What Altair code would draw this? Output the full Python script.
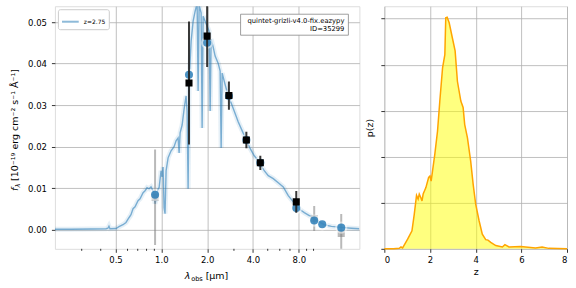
import altair as alt
import pandas as pd

FONT = "DejaVu Sans"

# ---------------- data ----------------
spec_wave = [0.200, 0.255, 0.345, 0.433, 0.446, 0.453, 0.460, 0.504, 0.527, 0.560,
             0.586, 0.613, 0.632, 0.652, 0.672, 0.703, 0.725, 0.759, 0.782, 0.806,
             0.831, 0.856, 0.883, 0.896, 0.910, 0.924, 0.952, 0.967, 0.996, 1.011,
             1.027, 1.043, 1.058, 1.075, 1.108, 1.159, 1.213, 1.250, 1.289, 1.309,
             1.329, 1.370, 1.412, 1.455, 1.477, 1.500, 1.523, 1.570, 1.618, 1.668,
             1.719, 1.745, 1.772, 1.826, 1.854, 1.882, 1.940, 2.000, 2.061, 2.093,
             2.125, 2.190, 2.257, 2.362, 2.435, 2.472, 2.510, 2.627, 2.750, 2.877,
             3.011, 3.198, 3.399, 3.613, 3.839, 4.079, 4.396, 4.743, 5.040, 5.436,
             5.864, 6.325, 6.822, 7.250, 7.702, 8.182, 8.694, 9.378, 10.11, 10.91,
             11.77, 13.09, 15.23, 17.72, 20.0]
spec_flux = [0.00012, 0.00012, 0.00017, 0.00024, 0.00036, 0.00084, 0.00024, 0.00029, 0.00072, 0.0012,
             0.00175, 0.00288, 0.0036, 0.00505, 0.00553, 0.00697, 0.00745, 0.00889, 0.00938, 0.0101,
             0.00986, 0.0103, 0.00938, 0.00793, 0.00625, 0.00745, 0.00986, 0.0101, 0.0142, 0.0127,
             0.0151, 0.00529, 0.00385, 0.0142, 0.0173, 0.0190, 0.0200, 0.0214, 0.0221, 0.0185,
             0.0233, 0.0252, 0.0291, 0.0322, 0.0286, 0.00986, 0.0358, 0.0454, 0.0502, 0.0526,
             0.0545, 0.0334, 0.0540, 0.0522, 0.0245, 0.0514, 0.0502, 0.0490, 0.0478, 0.0286,
             0.0459, 0.0440, 0.0418, 0.0401, 0.0382, 0.0197, 0.0377, 0.0349, 0.0322, 0.0305,
             0.0286, 0.0260, 0.0238, 0.0216, 0.0195, 0.0178, 0.0163, 0.0142, 0.0130, 0.0123,
             0.0113, 0.0103, 0.0082, 0.0070, 0.0058, 0.0048, 0.0041, 0.0034, 0.0026, 0.0019,
             0.0012, 0.0008, 0.00055, 0.00036, 0.00024]

model_wave = [0.91, 1.52, 2.0, 2.78, 3.62, 4.47, 7.7, 10.1, 11.4, 15.2]
model_flux = [0.0084, 0.0373, 0.0450, 0.0322, 0.0216, 0.0161, 0.0052, 0.0022, 0.0013, 0.0005]

obs_wave = [1.52, 2.0, 2.78, 3.62, 4.47, 7.7]
obs_flux = [0.0353, 0.0466, 0.0323, 0.0216, 0.0161, 0.0067]
obs_err = [0.0148, 0.0074, 0.0034, 0.0020, 0.0017, 0.0026]

low_wave = [0.91, 10.1, 15.2]
low_flux = [0.0078, 0.0027, -0.0009]
low_err = [0.0115, 0.0030, 0.0047]

x_ticks = [0.5, 1, 2, 4, 8]
x_minor = [0.3, 0.4, 0.6, 0.7, 0.8, 0.9, 3, 5, 6, 7, 9, 10]
y_ticks = [0.0, 0.01, 0.02, 0.03, 0.04, 0.05]

pz_z = [0, 0.4, 0.655, 0.73, 0.80, 0.87, 1.02, 1.21, 1.31, 1.41, 1.48, 1.53, 1.60, 1.65,
        1.70, 1.82, 1.94, 2.00, 2.05, 2.11, 2.21, 2.33, 2.43, 2.55, 2.65, 2.69, 2.75, 2.84,
        2.98, 3.10, 3.20, 3.35, 3.45, 3.52, 3.64, 3.78, 3.89, 4.00, 4.15, 4.29, 4.44, 4.54,
        4.66, 4.88, 5.17, 5.28, 5.46, 5.97, 6.62, 6.91, 7.2, 8.0]
pz_p = [0, 0, 0.01, 0.04, 0.02, 0.08, 0.21, 0.39, 0.75, 1.16, 1.08, 1.19, 1.11, 1.04,
        1.19, 1.33, 1.55, 1.58, 1.47, 1.69, 2.05, 2.56, 3.21, 3.93, 4.22, 5.02, 5.03, 4.91,
        4.58, 4.30, 3.64, 3.21, 3.07, 2.70, 2.41, 1.91, 1.40, 0.97, 0.61, 0.32, 0.20, 0.19,
        0.14, 0.07, 0.04, 0.09, 0.04, 0.05, 0.02, 0.04, 0.01, 0.0]
z_ticks = [0, 2, 4, 6, 8]
p_ticks = [0, 1, 2, 3, 4, 5]

legend_label = "z=2.75"
annot_lines = ["quintet-grizli-v4.0-fix.eazypy", "ID=35299"]

# ---------------- frames ----------------
spec_df = pd.DataFrame({"wave": spec_wave, "flux": spec_flux, "label": legend_label})
model_df = pd.DataFrame({"wave": model_wave, "flux": model_flux})
obs_df = pd.DataFrame({"wave": obs_wave, "flux": obs_flux, "err": obs_err})
obs_df["lo"] = obs_df["flux"] - obs_df["err"]
obs_df["hi"] = obs_df["flux"] + obs_df["err"]
low_df = pd.DataFrame({"wave": low_wave, "flux": low_flux, "err": low_err})
low_df["lo"] = low_df["flux"] - low_df["err"]
low_df["hi"] = low_df["flux"] + low_df["err"]
minor_df = pd.DataFrame({"v": x_minor})
pz_df = pd.DataFrame({"z": pz_z, "p": pz_p})
one = pd.DataFrame({"a": [0]})

W1, H = 305, 243
W2 = 183
X0, Y0 = 54, 5   # absolute position of left plot area (for annotation text placement)

xscale = alt.Scale(type="log", domain=[0.2, 20], nice=False)
yscale = alt.Scale(domain=[-0.0046, 0.0538], nice=False, zero=False)

common_axis = dict(grid=True, gridColor="#b0b0b0", gridWidth=0.8, tickColor="black",
                   tickSize=3.5, tickWidth=0.8, labelColor="black", labelFont=FONT,
                   labelFontSize=8.5, domain=False, title=None)

xax = alt.Axis(values=x_ticks, format=".1f", labelPadding=3, **common_axis)
yax = alt.Axis(values=y_ticks, format=".2f", labelPadding=5, **common_axis)

X = alt.X("wave:Q", scale=xscale, axis=xax)
Y = alt.Y("flux:Q", scale=yscale, axis=yax)

band = alt.Chart(spec_df).mark_line(color="#1f77b4", opacity=0.11, strokeWidth=5,
                                     clip=True).encode(x=X, y=Y)
line = alt.Chart(spec_df).mark_line(strokeWidth=1.4, opacity=0.55, clip=True).encode(
    x="wave:Q", y="flux:Q",
    color=alt.Color("label:N", scale=alt.Scale(domain=[legend_label], range=["#1f77b4"]),
                    legend=alt.Legend(title=None, orient="top-left", offset=3,
                                      fillColor="white", strokeColor="#cccccc",
                                      cornerRadius=2, padding=3, labelFont=FONT,
                                      labelFontSize=6, labelColor="black",
                                      symbolType="stroke", symbolSize=280,
                                      symbolStrokeWidth=2, symbolOpacity=0.5,
                                      labelOffset=4)))

low_bars = alt.Chart(low_df).mark_rule(color="#808080", opacity=0.55, strokeWidth=2,
                                        clip=True).encode(x="wave:Q", y="lo:Q", y2="hi:Q")
low_sq = alt.Chart(low_df).mark_square(color="#808080", opacity=0.55, size=50,
                                        clip=True).encode(x="wave:Q", y="flux:Q")
halo = alt.Chart(model_df).mark_circle(color="white", opacity=0.5, size=150,
                                        clip=True).encode(x="wave:Q", y="flux:Q")
model = alt.Chart(model_df).mark_circle(color="#1f77b4", opacity=0.8, size=65,
                                         clip=True).encode(x="wave:Q", y="flux:Q")
obs_bars = alt.Chart(obs_df).mark_rule(color="#222222", opacity=0.9, strokeWidth=2,
                                        clip=True).encode(x="wave:Q", y="lo:Q", y2="hi:Q")
obs_sq = alt.Chart(obs_df).mark_square(color="black", opacity=1, size=50,
                                        clip=True).encode(x="wave:Q", y="flux:Q")

minor = alt.Chart(minor_df).mark_rule(color="black", strokeWidth=0.8).encode(
    x=alt.X("v:Q"), y=alt.value(H), y2=alt.value(H + 2))

# annotation box (top right)
box = alt.Chart(one).mark_rect(fill="white", stroke="#888888", strokeWidth=0.8).encode(
    x=alt.value(240 - X0), x2=alt.value(348 - X0), y=alt.value(13 - Y0), y2=alt.value(34 - Y0))
annot1 = alt.Chart(one).mark_text(text=annot_lines[0], align="right", baseline="middle",
                                  font=FONT, fontSize=6.8, color="black").encode(
    x=alt.value(344 - X0), y=alt.value(20 - Y0))
annot2 = alt.Chart(one).mark_text(text=annot_lines[1], align="right", baseline="middle",
                                  font=FONT, fontSize=6.8, color="black").encode(
    x=alt.value(344 - X0), y=alt.value(27.5 - Y0))

# x title: lambda_obs [um]
xt1 = alt.Chart(one).mark_text(text="λ", align="left", baseline="alphabetic", font=FONT,
                               fontSize=9.5, fontStyle="italic", color="black").encode(
    x=alt.value(184 - X0), y=alt.value(278 - Y0))
xt2 = alt.Chart(one).mark_text(text="obs", align="left", baseline="alphabetic", font=FONT,
                               fontSize=6.6, color="black").encode(
    x=alt.value(190.5 - X0), y=alt.value(280 - Y0))
xt3 = alt.Chart(one).mark_text(text="[μm]", align="left", baseline="alphabetic", font=FONT,
                               fontSize=9.5, color="black").encode(
    x=alt.value(205 - X0), y=alt.value(278 - Y0))

# y title: f_lambda [...]
yt1 = alt.Chart(one).mark_text(text="f", align="left", baseline="alphabetic", angle=270,
                               font=FONT, fontSize=9.5, fontStyle="italic", color="black").encode(
    x=alt.value(17 - X0), y=alt.value(190 - Y0))
yt2 = alt.Chart(one).mark_text(text="λ", align="left", baseline="alphabetic", angle=270,
                               font=FONT, fontSize=6.6, fontStyle="italic", color="black").encode(
    x=alt.value(19 - X0), y=alt.value(186.5 - Y0))
yt3 = alt.Chart(one).mark_text(text="[10⁻¹⁹ erg cm⁻² s⁻¹ Å⁻¹]", align="left",
                               baseline="alphabetic", angle=270, font=FONT, fontSize=9.5,
                               color="black").encode(
    x=alt.value(17 - X0), y=alt.value(180 - Y0))

left = alt.layer(band, line, low_bars, low_sq, halo, model, obs_bars, obs_sq, minor,
                 box, annot1, annot2, xt1, xt2, xt3, yt1, yt2, yt3).properties(
    width=W1, height=H)

# ---------------- right panel: p(z) ----------------
zax = alt.Axis(values=z_ticks, format="d", labelPadding=3, title="z", titleFont=FONT,
               titleFontSize=9.5, titleFontWeight="normal", titleColor="black",
               titlePadding=3,
               **{k: v for k, v in common_axis.items() if k != "title"})
pax = alt.Axis(values=p_ticks, labels=False, title="p(z)", titleFont=FONT,
               titleFontSize=9.5, titleFontWeight="normal", titleColor="black",
               titlePadding=6,
               **{k: v for k, v in common_axis.items() if k != "title"})

zX = alt.X("z:Q", scale=alt.Scale(domain=[0, 8], nice=False), axis=zax)
pY = alt.Y("p:Q", scale=alt.Scale(domain=[0, 5.27], nice=False), axis=pax)

area = alt.Chart(pz_df).mark_area(color="#ffff00", opacity=0.5).encode(x=zX, y=pY)
pline = alt.Chart(pz_df).mark_line(color="#ffa500", strokeWidth=1.5).encode(x="z:Q", y="p:Q")

right = alt.layer(area, pline).properties(width=W2, height=H)

chart = alt.hconcat(left, right, spacing=3).properties(
    padding={"left": 9, "top": 5, "right": 5, "bottom": 5}
).configure_view(stroke="black", strokeWidth=0.8).configure(font=FONT)

chart.save("out.html", embed_options={"renderer": "svg", "actions": False})
